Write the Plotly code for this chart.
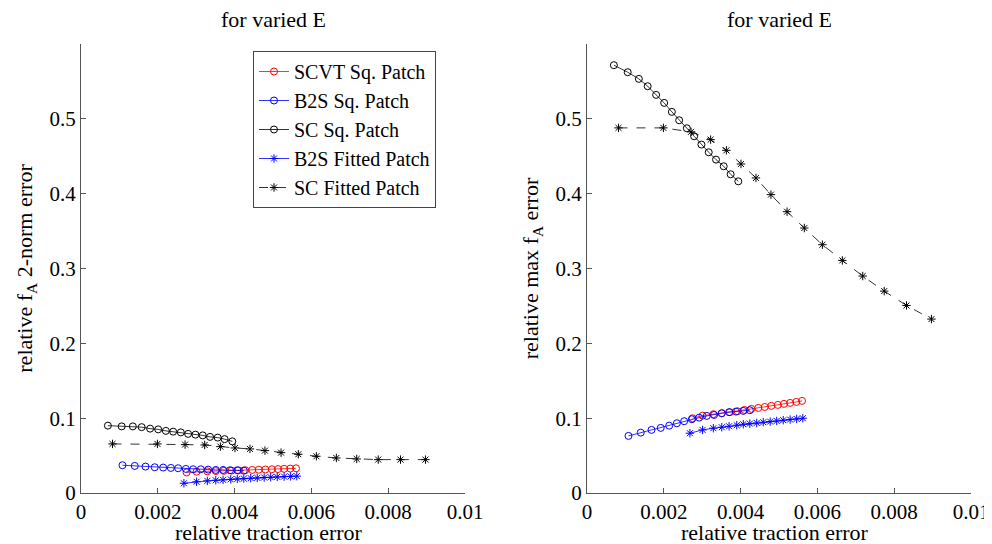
import plotly.graph_objects as go
from plotly.subplots import make_subplots

# relative traction error (x) for each series
x_scvt_sq = [0.00275, 0.00301, 0.00329, 0.00351, 0.00372, 0.00392, 0.00410, 0.00428,
             0.00446, 0.00463, 0.00480, 0.00497, 0.00513, 0.00529, 0.00545, 0.00560]
x_b2s_sq = [0.00108, 0.00140, 0.00168, 0.00192, 0.00214, 0.00234, 0.00253, 0.00273,
            0.00292, 0.00312, 0.00331, 0.00351, 0.00370, 0.00388, 0.00407, 0.00424]
x_sc_sq = [0.00070, 0.00106, 0.00135, 0.00158, 0.00180, 0.00201, 0.00221, 0.00240,
           0.00260, 0.00279, 0.00298, 0.00317, 0.00336, 0.00356, 0.00374, 0.00394]
x_b2s_fit = [0.00268, 0.00301, 0.00329, 0.00351, 0.00370, 0.00390, 0.00407, 0.00424,
             0.00442, 0.00459, 0.00477, 0.00494, 0.00511, 0.00529, 0.00546, 0.00562]
x_sc_fit = [0.00082, 0.00199, 0.00271, 0.00322, 0.00363, 0.00401, 0.00440, 0.00479,
            0.00521, 0.00566, 0.00613, 0.00665, 0.00718, 0.00774, 0.00832, 0.00897]

# relative f_A 2-norm error (left panel)
l2_scvt_sq = [0.0275, 0.0285, 0.0290, 0.0293, 0.0296, 0.0299, 0.0302, 0.0305,
              0.0308, 0.0311, 0.0314, 0.0317, 0.0320, 0.0323, 0.0326, 0.0330]
l2_b2s_sq = [0.0371, 0.0362, 0.0353, 0.0344, 0.0340, 0.0335, 0.0331, 0.0322,
             0.0317, 0.0317, 0.0313, 0.0308, 0.0308, 0.0304, 0.0304, 0.0299]
l2_sc_sq = [0.090, 0.089, 0.089, 0.088, 0.086, 0.085, 0.083, 0.082,
            0.081, 0.079, 0.078, 0.077, 0.075, 0.074, 0.072, 0.069]
l2_b2s_fit = [0.0130, 0.0150, 0.0162, 0.0170, 0.0176, 0.0182, 0.0188, 0.0193,
              0.0198, 0.0202, 0.0207, 0.0211, 0.0215, 0.0219, 0.0222, 0.0225]
l2_sc_fit = [0.0656, 0.0656, 0.0647, 0.0642, 0.0620, 0.0602, 0.0589, 0.0566,
             0.0539, 0.0518, 0.0491, 0.0468, 0.0455, 0.0446, 0.0446, 0.0446]

# relative max f_A error (right panel)
mx_scvt_sq = [0.0999, 0.1034, 0.1053, 0.1066, 0.1080, 0.1093, 0.1110, 0.1124,
              0.1137, 0.1150, 0.1164, 0.1177, 0.1191, 0.1204, 0.1217, 0.1231]
mx_b2s_sq = [0.0763, 0.0807, 0.0843, 0.0870, 0.0900, 0.0932, 0.0959, 0.0986,
             0.1007, 0.1030, 0.1043, 0.1066, 0.1080, 0.1088, 0.1097, 0.1106]
mx_sc_sq = [0.5717, 0.5623, 0.5534, 0.5436, 0.5320, 0.5213, 0.5093, 0.4981,
            0.4874, 0.4767, 0.4656, 0.4553, 0.4455, 0.4366, 0.4259, 0.4165]
mx_b2s_fit = [0.0799, 0.0843, 0.0866, 0.0879, 0.0892, 0.0906, 0.0919, 0.0927,
              0.0936, 0.0946, 0.0954, 0.0963, 0.0973, 0.0981, 0.0990, 0.0999]
mx_sc_fit = [0.4879, 0.4879, 0.4826, 0.4722, 0.4579, 0.4397, 0.4210, 0.3987,
             0.3759, 0.3541, 0.3318, 0.3108, 0.2899, 0.2698, 0.2506, 0.2324]

x_ticks = [0, 0.002, 0.004, 0.006, 0.008, 0.01]
x_tick_labels = ["0", "0.002", "0.004", "0.006", "0.008", "0.01"]
y_ticks = [0, 0.1, 0.2, 0.3, 0.4, 0.5]
y_tick_labels = ["0", "0.1", "0.2", "0.3", "0.4", "0.5"]

FONT = "Liberation Serif"
# page has an 8px body margin, so the figure is drawn 8px in from the window corner
W, H = 984, 536

series = [
    ("SCVT Sq. Patch", x_scvt_sq, l2_scvt_sq, mx_scvt_sq, "rgb(255,0,0)", "circle-open", "solid", 7),
    ("B2S Sq. Patch", x_b2s_sq, l2_b2s_sq, mx_b2s_sq, "rgb(0,0,255)", "circle-open", "solid", 7),
    ("SC Sq. Patch", x_sc_sq, l2_sc_sq, mx_sc_sq, "rgb(0,0,0)", "circle-open", "solid", 7),
    ("B2S Fitted Patch", x_b2s_fit, l2_b2s_fit, mx_b2s_fit, "rgb(0,0,255)", "asterisk-open", "solid", 7),
    ("SC Fitted Patch", x_sc_fit, l2_sc_fit, mx_sc_fit, "rgb(0,0,0)", "asterisk-open", "dash", 7),
]

fig = make_subplots(rows=1, cols=2)

for name, xs, y_left, y_right, color, symbol, dash, size in series:
    style = dict(mode="lines+markers", line=dict(color=color, width=0.8, dash=dash),
                 marker=dict(symbol=symbol, size=size, color=color, line=dict(color=color, width=1)))
    fig.add_trace(go.Scatter(x=xs, y=y_left, name=name, showlegend=True, **style), row=1, col=1)
    fig.add_trace(go.Scatter(x=xs, y=y_right, name=name, showlegend=False, **style), row=1, col=2)

axis_common = dict(showline=True, linecolor="#555", linewidth=1, ticks="inside", ticklen=5,
                   tickcolor="#555", showgrid=False, zeroline=False, mirror=False,
                   tickfont=dict(family=FONT, size=21, color="black"), automargin=False)

fig.update_xaxes(range=[0, 0.01], tickvals=x_ticks, ticktext=x_tick_labels,
                 ticklabeloverflow="allow", **axis_common)
fig.update_yaxes(range=[0, 0.6], tickvals=y_ticks, ticktext=y_tick_labels, **axis_common)

left_dom = [73, 457]
right_dom = [579, 963]
fig.update_xaxes(domain=[left_dom[0] / W, left_dom[1] / W], row=1, col=1)
fig.update_xaxes(domain=[right_dom[0] / W, right_dom[1] / W], row=1, col=2)
fig.update_yaxes(domain=[(H - 485) / H, (H - 36) / H])
fig.update_yaxes(title=dict(text="relative f<sub>A</sub> 2-norm error",
                            font=dict(family=FONT, size=22, color="black"), standoff=10), row=1, col=1)
fig.update_yaxes(title=dict(text="relative max f<sub>A</sub> error",
                            font=dict(family=FONT, size=22, color="black"), standoff=10), row=1, col=2)

for dom in [left_dom, right_dom]:
    cx = (dom[0] + dom[1]) / 2 / W
    fig.add_annotation(text="for varied E", x=cx, y=1 - 12 / H, xref="paper", yref="paper",
                       xanchor="center", yanchor="middle", showarrow=False,
                       font=dict(family=FONT, size=22, color="black"))
    fig.add_annotation(text="relative traction error", x=cx - 4 / W, y=1 - 524 / H, xref="paper", yref="paper",
                       xanchor="center", yanchor="middle", showarrow=False,
                       font=dict(family=FONT, size=22, color="black"))

fig.update_layout(
    width=W, height=H,
    margin=dict(l=0, r=0, t=0, b=0),
    plot_bgcolor="white", paper_bgcolor="white",
    font=dict(family=FONT, size=22, color="black"),
    legend=dict(x=245 / W, y=1 - 43 / H, xanchor="left", yanchor="top",
                bordercolor="#444", borderwidth=1, bgcolor="white",
                font=dict(family=FONT, size=20, color="black"),
                tracegroupgap=0, itemwidth=30),
)

fig.write_html("out.html")
